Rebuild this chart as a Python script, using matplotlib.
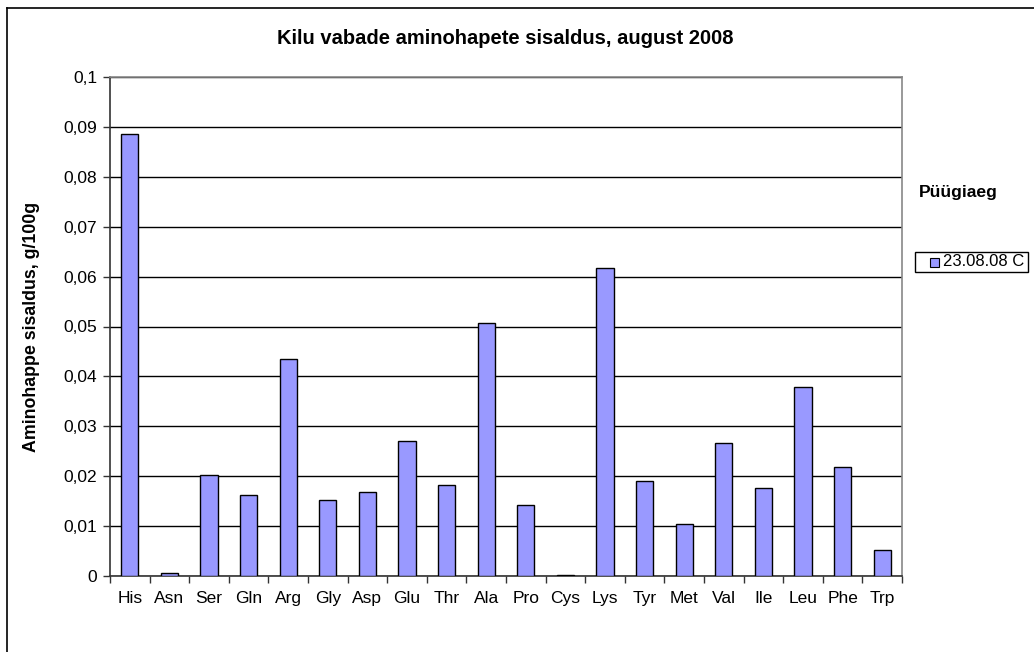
import numpy as np
import matplotlib
matplotlib.use('Agg')
import matplotlib.pyplot as plt
from matplotlib.lines import Line2D
from matplotlib.patches import Rectangle

plt.rcParams['font.family'] = ['Liberation Sans', 'DejaVu Sans']

# Free amino acid content, sprat, August 2008
amino_acids = ['His', 'Asn', 'Ser', 'Gln', 'Arg', 'Gly', 'Asp', 'Glu', 'Thr', 'Ala',
               'Pro', 'Cys', 'Lys', 'Tyr', 'Met', 'Val', 'Ile', 'Leu', 'Phe', 'Trp']
content = [0.0885, 0.0006, 0.0203, 0.0163, 0.0435, 0.0153, 0.0168, 0.0270, 0.0182, 0.0508,
           0.0142, 0.0002, 0.0618, 0.0190, 0.0105, 0.0267, 0.0177, 0.0379, 0.0218, 0.0052]
series_name = '23.08.08 C'
yticks = [0, 0.01, 0.02, 0.03, 0.04, 0.05, 0.06, 0.07, 0.08, 0.09, 0.1]

W, H = 1034, 652
fig = plt.figure(figsize=(W / 100, H / 100), dpi=100)
ax = fig.add_axes([110 / W, 1 - 576 / H, (902 - 110) / W, (576 - 77) / H])

x = np.arange(len(amino_acids))
ax.bar(x, content, width=0.43, color='#9999ff', edgecolor='black',
       linewidth=1.0, zorder=3)

ax.set_xlim(-0.5, len(amino_acids) - 0.5)
ax.set_ylim(0, 0.1)
ax.set_yticks(yticks)
ax.set_yticklabels(['0' if v == 0 else ('%g' % v).replace('.', ',') for v in yticks])
ax.set_xticks(x)
ax.set_xticklabels(amino_acids)
# category boundaries carry the tick marks
ax.set_xticks(np.arange(-0.5, len(amino_acids)), minor=True)

ax.tick_params(axis='x', which='major', length=0, pad=11, labelsize=12.5)
ax.tick_params(axis='x', which='minor', length=5, width=1, color='#333333', direction='out')
ax.tick_params(axis='y', length=5, width=1, color='#333333', pad=4, labelsize=12.5)

ax.yaxis.grid(True, color='black', linewidth=1.0, zorder=0)
ax.set_axisbelow(True)
for side in ['top', 'right']:
    ax.spines[side].set_color('#888888')
    ax.spines[side].set_linewidth(1.2)
for side in ['left', 'bottom']:
    ax.spines[side].set_color('#333333')
    ax.spines[side].set_linewidth(1.2)

ax.set_ylabel('Aminohappe sisaldus, g/100g', fontsize=12.8, fontweight='bold')
ax.yaxis.set_label_coords((40 - 110) / (902 - 110), 0.5)

fig.text(505 / W, 1 - 38 / H, 'Kilu vabade aminohapete sisaldus, august 2008',
         ha='center', va='center', fontsize=14.5, fontweight='bold')

# legend title and box on the right
fig.text(958 / W, 1 - 192 / H, 'Püügiaeg', ha='center', va='center',
         fontsize=12.6, fontweight='bold')
fig.add_artist(Rectangle((915 / W, 1 - 272 / H), (1028 - 915) / W, 20 / H,
                         transform=fig.transFigure, facecolor='white',
                         edgecolor='black', linewidth=1.0))
fig.add_artist(Rectangle((930 / W, 1 - 267 / H), 9 / W, 9 / H,
                         transform=fig.transFigure, facecolor='#9999ff',
                         edgecolor='black', linewidth=0.8))
fig.text(943 / W, 1 - 262 / H, series_name, ha='left', va='center', fontsize=12)

# chart area border (left and top edges)
fig.add_artist(Line2D([7 / W, 7 / W], [0, 1 - 8 / H], transform=fig.transFigure,
                      color='black', linewidth=1.2))
fig.add_artist(Line2D([7 / W, 1], [1 - 8 / H, 1 - 8 / H], transform=fig.transFigure,
                      color='black', linewidth=1.2))

fig.savefig('out.png', dpi=100)
